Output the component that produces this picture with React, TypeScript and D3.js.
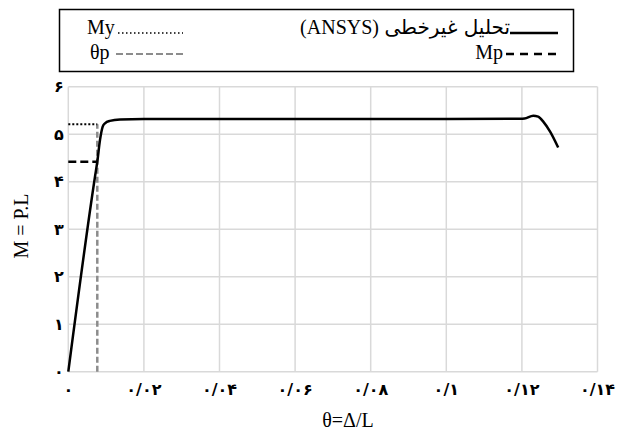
import React from 'react';
import * as d3 from 'd3';

// rotation θ = Δ/L and moment M = P.L
const theta = [0, 0.00706, 0.00767, 0.00839, 0.0091, 0.0097, 0.011, 0.0137, 0.02, 0.04, 0.06, 0.08, 0.1, 0.1195, 0.1207, 0.123, 0.1243, 0.1257, 0.1275, 0.1296];
const moment = [0, 4.105, 4.42, 4.88, 5.16, 5.23, 5.28, 5.31, 5.32, 5.32, 5.32, 5.32, 5.32, 5.325, 5.33, 5.39, 5.37, 5.26, 5.05, 4.72];

const My = 5.21;
const Mp = 4.42;
const thetaP = 0.00767;

const xTicks = [0, 0.02, 0.04, 0.06, 0.08, 0.1, 0.12, 0.14];
const xTickLabels = ['۰', '۰/۰۲', '۰/۰۴', '۰/۰۶', '۰/۰۸', '۰/۱', '۰/۱۲', '۰/۱۴'];
const yTicks = [0, 1, 2, 3, 4, 5, 6];
const yTickLabels = ['۰', '۱', '۲', '۳', '۴', '۵', '۶'];

const W = 618;
const H = 433;
const serif = '"Liberation Serif", "Times New Roman", serif';
const persian = '"DejaVu Sans", sans-serif';

export default function App() {
  const x = d3.scaleLinear().domain([0, 0.14]).range([68.3, 597.5]);
  const y = d3.scaleLinear().domain([0, 6]).range([371.7, 86.7]);

  const pts: [number, number][] = theta.map((t, i) => [t, moment[i]]);
  const line = d3.line<[number, number]>()
    .x(d => x(d[0]))
    .y(d => y(d[1]))
    .curve(d3.curveMonotoneX);

  return (
    <svg width={W} height={H} style={{ position: 'absolute', left: 0, top: 0, background: '#fff' }}>
      {/* grid */}
      {yTicks.map(t => (
        <line key={'gy' + t} x1={x(0)} x2={x(0.14)} y1={y(t)} y2={y(t)} stroke="#d9d9d9" strokeWidth={1.5} />
      ))}
      {xTicks.map(t => (
        <line key={'gx' + t} x1={x(t)} x2={x(t)} y1={y(0)} y2={y(6)} stroke="#d9d9d9" strokeWidth={1.5} />
      ))}

      {/* tick labels */}
      {yTicks.map((t, i) => (
        <text key={'ly' + t} x={59} y={y(t)} dy="0.35em" textAnchor="middle"
          fontFamily={persian} fontSize={16} fontWeight="bold" fill="#000">{yTickLabels[i]}</text>
      ))}
      {xTicks.map((t, i) => (
        <text key={'lx' + t} x={x(t)} y={395} textAnchor="middle"
          fontFamily={persian} fontSize={16} fontWeight="bold" fill="#000">{xTickLabels[i]}</text>
      ))}

      {/* reference lines */}
      <line x1={x(thetaP)} x2={x(thetaP)} y1={y(0)} y2={y(My)} stroke="#8c8c8c" strokeWidth={2.5} strokeDasharray="6,3" />
      <line x1={x(0)} x2={x(thetaP)} y1={y(My)} y2={y(My)} stroke="#000" strokeWidth={2} strokeDasharray="2,2" />
      <line x1={x(0)} x2={x(thetaP)} y1={y(Mp)} y2={y(Mp)} stroke="#000" strokeWidth={2.5} strokeDasharray="8,4" />

      {/* nonlinear analysis curve */}
      <path d={line(pts) || ''} fill="none" stroke="#000" strokeWidth={2.5} strokeLinejoin="round" />

      {/* axis titles */}
      <text x={348} y={427} textAnchor="middle" fontFamily={serif} fontSize={20} fill="#000">θ=Δ/L</text>
      <text transform="translate(28,226) rotate(-90)" textAnchor="middle" fontFamily={serif} fontSize={20} fill="#000">M = P.L</text>

      {/* legend */}
      <rect x={59.5} y={9.5} width={514} height={62} fill="#fff" stroke="#000" strokeWidth={1.5} />
      <text x={87} y={34} fontFamily={serif} fontSize={20} fill="#000">My</text>
      <line x1={118} x2={183} y1={33} y2={33} stroke="#000" strokeWidth={1.5} strokeDasharray="1.5,2.5" />
      <text x={90} y={59} fontFamily={serif} fontSize={20} fill="#000">θp</text>
      <line x1={116} x2={186} y1={54} y2={54} stroke="#8c8c8c" strokeWidth={2} strokeDasharray="7,3" />

      <line x1={510} x2={558} y1={33} y2={33} stroke="#000" strokeWidth={2.5} />
      <text x={510} y={34} textAnchor="end" fontFamily={persian} fontSize={20} fill="#000">تحلیل غیرخطی</text>
      <text x={379} y={34} textAnchor="end" fontFamily={serif} fontSize={20} fill="#000">(ANSYS)</text>
      <text x={503} y={59} textAnchor="end" fontFamily={serif} fontSize={20} fill="#000">Mp</text>
      <line x1={506} x2={558} y1={54} y2={54} stroke="#000" strokeWidth={2.5} strokeDasharray="8,6" />
    </svg>
  );
}
